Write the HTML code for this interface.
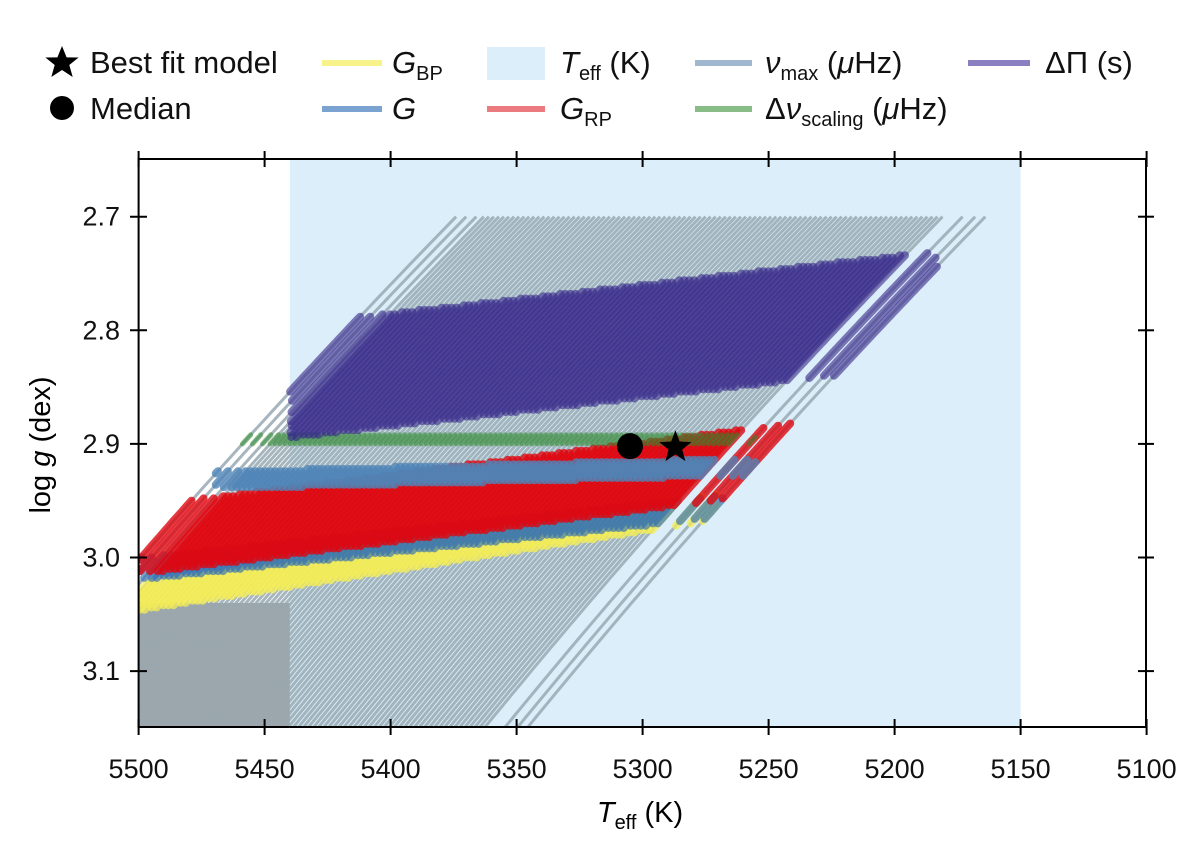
<!DOCTYPE html>
<html><head><meta charset="utf-8"><style>
body{margin:0;background:#fff}
svg{display:block;font-family:"Liberation Sans",sans-serif}
</style></head><body>
<svg id="chart" width="1200" height="851" viewBox="0 0 1200 851" style="position:absolute;left:0;top:0">
<defs><clipPath id="pc"><rect x="138.6" y="159" width="1007.4" height="568"/></clipPath></defs>
<g id="plot" clip-path="url(#pc)"></g>
<g id="axes"></g>
</svg>
<script>
// ---- data ----
const xTicks=[5500,5450,5400,5350,5300,5250,5200,5150,5100];
const yTicks=[2.7,2.8,2.9,3.0,3.1];
const trackTops=[5164,5168,5173,5181,5183,5185,5187,5189,5191,5193,5195,5197,5199,5201,5203,5205,5207,5209,5211,5213,5215,5217,5219,5221,5223,5225,5227,5229,5231,5233,5235,5237,5239,5241,5243,5245,5247,5249,5251,5253,5255,5257,5259,5261,5263,5265,5267,5269,5271,5273,5275,5277,5279,5281,5283,5285,5287,5289,5291,5293,5295,5297,5299,5301,5303,5305,5307,5309,5311,5313,5315,5317,5319,5321,5323,5325,5327,5329,5331,5333,5335,5337,5339,5341,5343,5345,5347,5349,5351,5353,5355,5357,5359,5361,5363,5366,5370,5374];
const bandNames=["yellow-GBP","blue-G-lower","red-GRP","blue-G-upper","green-dnu","purple-dPi"];
const bandLeftT=[5500,5500,5500,5470,5465,5440];
const bandRightT=[5270,5268,5235,5255,5255,5183];
const bandGLeft=[3.035,3.01,2.985,2.932,2.897,2.845];
const bandGRight=[2.955,2.955,2.91,2.92,2.895,2.78];
const bandHalfW=[0.012,0.01,0.03,0.008,0.005,0.05];
const bandColors=["#f4ee55","#2f6fb4","#e0060f","#4f85b8","#2e8b2e","#35268a"];
const bandOpacity=[0.75,0.65,0.8,0.8,0.55,0.6];
const bestFit=[5287,2.903];
const median=[5305,2.902];
const shadeT=[5440,5150];
// ---- scales ----
const x=T=>138.6+(5500-T)*2.52;
const y=g=>216.7+(g-2.7)*1136;
const NS="http://www.w3.org/2000/svg";
function mk(tag,attrs,parent){const e=document.createElementNS(NS,tag);for(const k in attrs)e.setAttribute(k,attrs[k]);parent.appendChild(e);return e;}
const plot=document.getElementById('plot'),axes=document.getElementById('axes');
const trackT=(top,g)=>{const d=g-2.7;return top+440*d-80*d*d;};
let r=mk('rect',{x:x(shadeT[0]),y:159,width:x(shadeT[1])-x(shadeT[0]),height:568,fill:'#dbeef9'},plot);


r=mk('rect',{x:138.6,y:y(3.04),width:x(shadeT[0])-138.6,height:727-y(3.04),fill:'#a4a4a4'},plot);


trackTops.forEach(top=>{
  let pts=[];for(let g=2.7;g<=3.16;g+=0.01)pts.push(x(trackT(top,g)).toFixed(1)+','+y(g).toFixed(1));
  const p=mk('polyline',{points:pts.join(' '),fill:'none',stroke:'#98a9b3','stroke-opacity':0.85,'stroke-width':3},plot);
  
  
});
bandNames.forEach((nm,i)=>{
  trackTops.forEach(top=>{
    let pts=[];
    for(let g=2.7;g<=3.15;g+=0.002){
      const T=trackT(top,g);
      if(T>bandLeftT[i]||T<bandRightT[i])continue;
      const f=(bandLeftT[i]-T)/(bandLeftT[i]-bandRightT[i]);
      const c=bandGLeft[i]+(bandGRight[i]-bandGLeft[i])*f;
      if(Math.abs(g-c)<=bandHalfW[i])pts.push(x(T).toFixed(1)+','+y(g).toFixed(1));
    }
    if(pts.length<2)return;
    const p=mk('polyline',{points:pts.join(' '),fill:'none',stroke:bandColors[i],'stroke-opacity':bandOpacity[i],'stroke-width':i==4?5:8,'stroke-linecap':'round'},plot);
    
    
  });
});
let c=mk('circle',{cx:x(median[0]),cy:y(median[1]),r:13,fill:'#000'},plot);


function star(cx,cy,R,parent){let p=[];for(let k=0;k<10;k++){const a=-Math.PI/2+k*Math.PI/5,rr=k%2?R*0.42:R;p.push((cx+rr*Math.cos(a)).toFixed(1)+','+(cy+rr*Math.sin(a)).toFixed(1));}return mk('polygon',{points:p.join(' '),fill:'#000'},parent);}
let s=star(x(bestFit[0]),y(bestFit[1]),17,plot);


let fr=mk('rect',{x:138.6,y:159,width:1007.4,height:568,fill:'none',stroke:'#000','stroke-width':2},axes);


xTicks.forEach(t=>{
  const xx=x(t);
  mk('line',{x1:xx,x2:xx,y1:719,y2:735,stroke:'#000','stroke-width':2},axes);
  mk('line',{x1:xx,x2:xx,y1:151,y2:167,stroke:'#000','stroke-width':2},axes);
  const tx=mk('text',{x:xx,y:778,'text-anchor':'middle','font-size':27,fill:'#111'},axes);tx.textContent=t;
  
  
});
yTicks.forEach(t=>{
  const yy=y(t);
  mk('line',{x1:130,x2:147,y1:yy,y2:yy,stroke:'#000','stroke-width':2},axes);
  mk('line',{x1:1138,x2:1154,y1:yy,y2:yy,stroke:'#000','stroke-width':2},axes);
  const tx=mk('text',{x:120,y:yy+9,'text-anchor':'end','font-size':27,fill:'#111'},axes);tx.textContent=t.toFixed(1);
  
  
});
</script>
<svg style="position:absolute;left:0;top:0" width="1200" height="851">
<text x="640" y="822" text-anchor="middle" font-size="29" font-family="Liberation Sans,sans-serif"><tspan font-style="italic">T</tspan><tspan font-size="20" dy="7">eff</tspan><tspan dy="-7"> (K)</tspan></text>
<text transform="translate(50,445) rotate(-90)" text-anchor="middle" font-size="29" font-family="Liberation Sans,sans-serif">log <tspan font-style="italic">g</tspan> (dex)</text>
<g font-family="Liberation Sans,sans-serif" font-size="31" fill="#111">
<g><polygon points="62,46 66.6,57.4 78.6,57.5 69.3,65 72.7,77 62,70 51.3,77 54.7,65 45.4,57.5 57.4,57.4" fill="#000"/><text x="90" y="73">Best fit model</text></g>
<g><circle cx="62" cy="108" r="12" fill="#000"/><text x="90" y="119">Median</text></g>
<g><line x1="322" y1="63" x2="382" y2="63" stroke="#f7f28a" stroke-width="6"/><text x="392" y="73"><tspan font-style="italic">G</tspan><tspan font-size="20" dy="7">BP</tspan></text></g>
<g><line x1="322" y1="109" x2="382" y2="109" stroke="#7aa3d2" stroke-width="6"/><text x="392" y="119" font-style="italic">G</text></g>
<g><rect x="487" y="47" width="58" height="33" fill="#dbeef9"/><text x="560" y="73"><tspan font-style="italic">T</tspan><tspan font-size="20" dy="7">eff</tspan><tspan dy="-7"> (K)</tspan></text></g>
<g><line x1="487" y1="109" x2="545" y2="109" stroke="#ec7b80" stroke-width="6"/><text x="560" y="119"><tspan font-style="italic">G</tspan><tspan font-size="20" dy="7">RP</tspan></text></g>
<g><line x1="695" y1="63" x2="752" y2="63" stroke="#9fb8cf" stroke-width="6"/><text x="765" y="73"><tspan font-style="italic">ν</tspan><tspan font-size="20" dy="7">max</tspan><tspan dy="-7"> (</tspan><tspan font-style="italic">μ</tspan>Hz)</text></g>
<g><line x1="695" y1="109" x2="752" y2="109" stroke="#88bd88" stroke-width="6"/><text x="765" y="119">Δ<tspan font-style="italic">ν</tspan><tspan font-size="20" dy="7">scaling</tspan><tspan dy="-7"> (</tspan><tspan font-style="italic">μ</tspan>Hz)</text></g>
<g><line x1="968" y1="63" x2="1030" y2="63" stroke="#8a7fc0" stroke-width="6"/><text x="1045" y="73">ΔΠ (s)</text></g>
</g>
</svg>
</body></html>
